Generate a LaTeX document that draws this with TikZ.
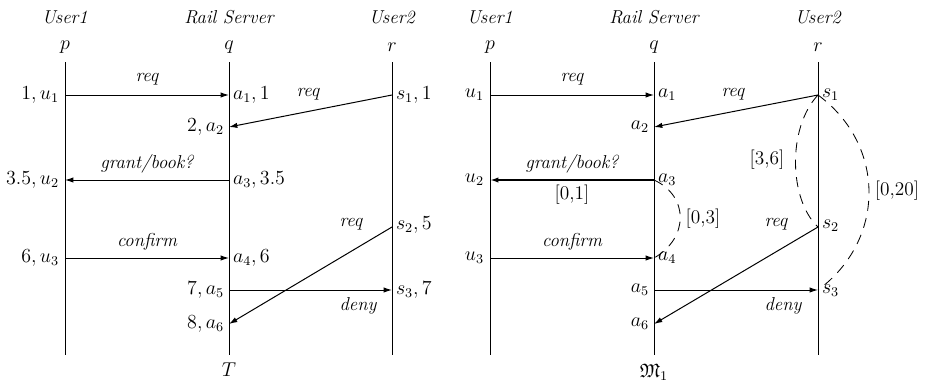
\documentclass[tikz,border=0pt]{standalone}
\usepackage{amssymb}
\usetikzlibrary{arrows.meta}
\begin{document}
\begin{tikzpicture}[x=0.6pt,y=-0.6pt,
  life/.style={line width=0.6pt},
  msg/.style={line width=0.6pt,-{Latex[length=5pt,width=3.2pt]}},
  msgb/.style={line width=1.2pt,-{Latex[length=5pt,width=3.2pt]}},
  lbl/.style={font=\fontsize{11.2}{13}\selectfont\itshape,inner sep=1pt},
  ev/.style={font=\fontsize{11.6}{13}\selectfont,inner sep=1pt},
  hd/.style={font=\fontsize{11.2}{13}\selectfont\itshape},
  cs/.style={font=\fontsize{11.6}{13}\selectfont,inner sep=1pt},
  dd/.style={line width=0.5pt,dash pattern=on 6pt off 4.5pt}]
\useasboundingbox (0,0) rectangle (927,386);
% ================= left diagram T =================
\node[hd] (Lh1) at (65,17) {User1};
\node[hd] (Lh2) at (229,17) {Rail Server};
\node[hd] (Lh3) at (392,17) {User2};
\node[ev] (Lp) at (65,47) {$p$};
\node[ev] (Lq) at (229,47) {$q$};
\node[ev] (Lr) at (392,47) {$r$};
\coordinate (LpT) at (65,62); \coordinate (LpB) at (65,355);
\coordinate (LqT) at (229,62); \coordinate (LqB) at (229,355);
\coordinate (LrT) at (392,62); \coordinate (LrB) at (392,355);
\draw[life] (LpT) -- (LpB);
\draw[life] (LqT) -- (LqB);
\draw[life] (LrT) -- (LrB);
\coordinate (Lu1) at (65,95);  \coordinate (La1) at (229,95);
\coordinate (Ls1) at (392,95); \coordinate (La2) at (229,127);
\coordinate (La3) at (229,180); \coordinate (Lu2) at (65,180);
\coordinate (Ls2) at (392,227);
\coordinate (Lu3) at (65,258); \coordinate (La4) at (229,258);
\coordinate (La5) at (229,290); \coordinate (Ls3) at (392,290);
\coordinate (La6) at (229,324);
\draw[msg] (Lu1) -- (La1);
\draw[msg] (Ls1) -- (La2);
\draw[msg] (La3) -- (Lu2);
\draw[msg] (Lu3) -- (La4);
\draw[msg] (La5) -- (Ls3);
\draw[msg] (Ls2) -- (La6);
\node[lbl] (Lm1) at (147,79) {req};
\node[lbl] (Lm2) at (308,94) {req};
\node[lbl] (Lm3) at (147,164) {grant/book?};
\node[lbl] (Lm4) at (351,224) {req};
\node[lbl] (Lm5) at (147,242) {confirm};
\node[lbl] (Lm6) at (358,306) {deny};
\node[ev,anchor=east] (Le1) at (61,95) {$1,u_1$};
\node[ev,anchor=west] (Le2) at (231,95) {$a_1,1$};
\node[ev,anchor=west] (Le3) at (394,95) {$s_1,1$};
\node[ev,anchor=east] (Le4) at (226,127) {$2,a_2$};
\node[ev,anchor=east] (Le5) at (61,180) {$3.5,u_2$};
\node[ev,anchor=west] (Le6) at (231,180) {$a_3,3.5$};
\node[ev,anchor=west] (Le7) at (394,225) {$s_2,5$};
\node[ev,anchor=east] (Le8) at (61,258) {$6,u_3$};
\node[ev,anchor=west] (Le9) at (231,258) {$a_4,6$};
\node[ev,anchor=east] (Le10) at (226,290) {$7,a_5$};
\node[ev,anchor=west] (Le11) at (394,290) {$s_3,7$};
\node[ev,anchor=east] (Le12) at (226,324) {$8,a_6$};
\node[ev] (LT) at (229,370) {$T$};
% ================= right diagram M1 =================
\node[hd] (Rh1) at (490,17) {User1};
\node[hd] (Rh2) at (654,17) {Rail Server};
\node[hd] (Rh3) at (818,17) {User2};
\node[ev] (Rp) at (490,47) {$p$};
\node[ev] (Rq) at (654,47) {$q$};
\node[ev] (Rr) at (818,47) {$r$};
\coordinate (RpT) at (490,62); \coordinate (RpB) at (490,355);
\coordinate (RqT) at (654,62); \coordinate (RqB) at (654,355);
\coordinate (RrT) at (818,62); \coordinate (RrB) at (818,355);
\draw[life] (RpT) -- (RpB);
\draw[life] (RqT) -- (RqB);
\draw[life] (RrT) -- (RrB);
\coordinate (Ru1) at (490,95);  \coordinate (Ra1) at (654,95);
\coordinate (Rs1) at (818,95); \coordinate (Ra2) at (654,127);
\coordinate (Ra3) at (654,180); \coordinate (Ru2) at (490,180);
\coordinate (Rs2) at (818,227);
\coordinate (Ru3) at (490,258); \coordinate (Ra4) at (654,258);
\coordinate (Ra5) at (654,290); \coordinate (Rs3) at (818,290);
\coordinate (Ra6) at (654,324);
\draw[msg] (Ru1) -- (Ra1);
\draw[msg] (Rs1) -- (Ra2);
\draw[msgb] (Ra3) -- (Ru2);
\draw[msg] (Ru3) -- (Ra4);
\draw[msg] (Ra5) -- (Rs3);
\draw[msg] (Rs2) -- (Ra6);
\draw[dd] (Ra3) .. controls (689,196) and (689,238) .. (Ra4);
\draw[dd] (Rs1) .. controls (787,128) and (789,200) .. (Rs2);
\draw[dd] (Rs1) .. controls (886,145) and (886,240) .. (Rs3);
\node[lbl] (Rm1) at (572,79) {req};
\node[lbl] (Rm2) at (733,94) {req};
\node[lbl] (Rm3) at (572,164) {grant/book?};
\node[lbl] (Rm4) at (776,224) {req};
\node[lbl] (Rm5) at (572,242) {confirm};
\node[lbl] (Rm6) at (783,306) {deny};
\node[cs] (Rc1) at (572,195) {[0,1]};
\node[cs] (Rc2) at (703,219) {[0,3]};
\node[cs] (Rc3) at (767,160) {[3,6]};
\node[cs] (Rc4) at (897,191) {[0,20]};
\node[ev,anchor=east] (Re1) at (486,95) {$u_1$};
\node[ev,anchor=west] (Re2) at (656,95) {$a_1$};
\node[ev,anchor=west] (Re3) at (820,95) {$s_1$};
\node[ev,anchor=east] (Re4) at (651,127) {$a_2$};
\node[ev,anchor=east] (Re5) at (486,180) {$u_2$};
\node[ev,anchor=west] (Re6) at (656,180) {$a_3$};
\node[ev,anchor=west] (Re7) at (820,226) {$s_2$};
\node[ev,anchor=east] (Re8) at (486,258) {$u_3$};
\node[ev,anchor=west] (Re9) at (656,258) {$a_4$};
\node[ev,anchor=east] (Re10) at (651,290) {$a_5$};
\node[ev,anchor=west] (Re11) at (820,291) {$s_3$};
\node[ev,anchor=east] (Re12) at (651,324) {$a_6$};
\node[ev] (RM) at (654,372) {$\mathfrak{M}_1$};
\end{tikzpicture}
\end{document}
